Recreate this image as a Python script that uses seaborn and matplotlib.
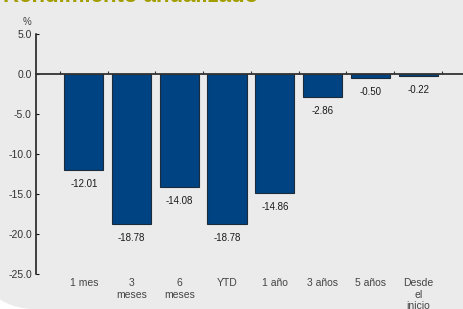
import numpy as np
import pandas as pd
import matplotlib
matplotlib.use("Agg")
import matplotlib.pyplot as plt
import matplotlib.transforms as mtransforms
from matplotlib.patches import FancyBboxPatch
import seaborn as sns

# data
categories = ["1 mes", "3\nmeses", "6\nmeses", "YTD", "1 año", "3 años", "5 años", "Desde\nel\ninicio"]
values = [-12.01, -18.78, -14.08, -18.78, -14.86, -2.86, -0.50, -0.22]
yticks = [5.0, 0.0, -5.0, -10.0, -15.0, -20.0, -25.0]

title = "Rendimiento anualizado"
bar_color = "#004382"
panel_color = "#ebebeb"

sns.set_style("ticks")
plt.rcParams["font.family"] = ["Liberation Sans", "DejaVu Sans"]

df = pd.DataFrame({"periodo": categories, "valor": values})

fig = plt.figure(figsize=(4.64, 3.09), dpi=100, facecolor="white")

# grey panel with a rounded lower-left corner (pixel coords)
panel = FancyBboxPatch((-22.8, -0.4), 700, 500,
                       boxstyle="round,pad=0,rounding_size=62.8",
                       transform=mtransforms.IdentityTransform(),
                       facecolor=panel_color, edgecolor="none", zorder=-10)
fig.patches.append(panel)

# title, cut off at the top edge
fig.text(3 / 464, 1 - 1.5 / 309, title, fontsize=16, fontweight="bold",
         color="#a39e00", va="baseline", ha="left")

ax = fig.add_axes([36 / 464, 35 / 309, 428 / 464, 239.7 / 309])
ax.set_facecolor("none")
ax.set_zorder(1)

sns.barplot(data=df, x="periodo", y="valor", order=categories, color=bar_color,
            width=0.82, edgecolor="#1b2b3b", linewidth=0.8, saturation=1, ax=ax)

ax.set_xlim(-1.0, 7.96)
ax.set_ylim(-25, 5)
ax.set_xlabel("")
ax.set_ylabel("")

# spines
ax.spines["top"].set_visible(False)
ax.spines["right"].set_visible(False)
ax.spines["bottom"].set_position(("data", 0))
ax.spines["bottom"].set_color("#333333")
ax.spines["bottom"].set_linewidth(1.3)
ax.spines["left"].set_color("#111111")
ax.spines["left"].set_linewidth(1.1)

# ticks at category boundaries on the zero line
ax.set_xticks(np.arange(len(categories) + 1) - 0.5)
ax.set_xticklabels([])
ax.tick_params(axis="x", direction="in", length=2.5, width=0.8, color="#333333")

ax.set_yticks(yticks)
ax.set_yticklabels([f"{t:.1f}" for t in yticks])
ax.tick_params(axis="y", direction="in", length=2.5, width=0.8, pad=3,
               labelsize=7.5, labelcolor="#333333", color="#111111")

# category labels under the plot
for i, lab in enumerate(categories):
    ax.text(i, -25.5, lab, ha="center", va="top", fontsize=7.5,
            color="#444444", linespacing=1.2, clip_on=False)

# value labels below each bar
for i, v in enumerate(values):
    ax.annotate(f"{v:.2f}", (i, v), xytext=(0, -10), textcoords="offset points",
                ha="center", va="center", fontsize=7, color="#1a1a1a")

# "%" unit above the axis
ax.text(-1.19, 5.9, "%", ha="center", va="bottom", fontsize=7, color="#444444",
        transform=ax.transData, clip_on=False)

fig.savefig("out.png", dpi=100, facecolor=fig.get_facecolor())
